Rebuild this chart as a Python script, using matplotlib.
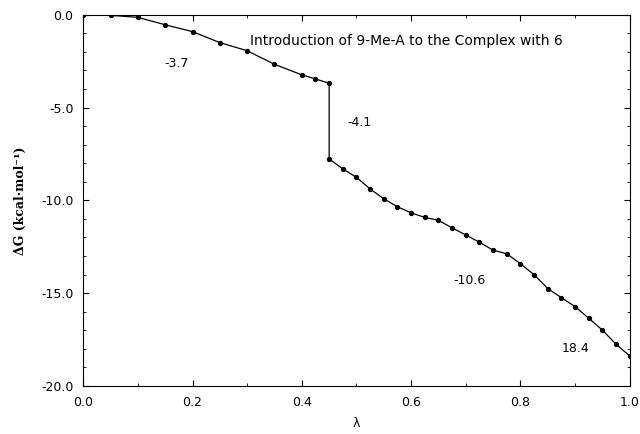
import numpy as np
import matplotlib
matplotlib.use('Agg')
import matplotlib.pyplot as plt
from matplotlib.ticker import MultipleLocator

# lambda values and free energy
lam = [0.0, 0.05, 0.1, 0.15, 0.2, 0.25, 0.3, 0.35, 0.4, 0.425, 0.45,
       0.45, 0.475, 0.5, 0.525, 0.55, 0.575, 0.6, 0.625, 0.65, 0.675,
       0.7, 0.725, 0.75, 0.775, 0.8, 0.825, 0.85, 0.875, 0.9, 0.925,
       0.95, 0.975, 1.0]
dG = [0.0, -0.03, -0.14, -0.54, -0.91, -1.5, -1.94, -2.67, -3.24, -3.46, -3.69,
      -7.77, -8.31, -8.76, -9.39, -9.92, -10.35, -10.68, -10.92, -11.08, -11.49,
      -11.87, -12.26, -12.69, -12.88, -13.42, -14.01, -14.76, -15.25, -15.73, -16.36,
      -17.0, -17.76, -18.39]

# segment labels (text, lambda, dG)
notes = ["-3.7", "-4.1", "-10.6", "18.4"]
note_x = [0.17, 0.506, 0.707, 0.9]
note_y = [-2.63, -5.8, -14.3, -18.0]

fig = plt.figure(figsize=(6.4, 4.34), dpi=100)
ax = fig.add_axes([0.13, 0.111, 0.854, 0.855])

ax.plot(lam, dG, color='black', lw=0.9, marker='o', ms=2.8)

for t, x, y in zip(notes, note_x, note_y):
    ax.text(x, y, t, fontsize=9, ha='center', va='center')

ax.text(0.305, -1.4, "Introduction of 9-Me-A to the Complex with 6",
        fontsize=10, ha='left', va='center')

ax.set_xlim(0, 1.0)
ax.set_ylim(-20, 0)
ax.set_xticks(np.arange(0, 1.01, 0.2))
ax.set_xticklabels(["0.0", "0.2", "0.4", "0.6", "0.8", "1.0"])
ax.set_yticks([0, -5, -10, -15, -20])
ax.set_yticklabels(["0.0", "-5.0", "-10.0", "-15.0", "-20.0"])
ax.yaxis.set_minor_locator(MultipleLocator(1))
ax.xaxis.set_minor_locator(MultipleLocator(0.1))
ax.tick_params(direction='in', top=True, right=True, which='both', labelsize=9)
ax.tick_params(which='major', length=4, pad=7)
ax.tick_params(which='minor', length=2)
for s in ax.spines.values():
    s.set_linewidth(0.8)

ax.set_xlabel("λ", fontsize=9, labelpad=6)
ax.set_ylabel("ΔG (kcal·mol⁻¹)", fontsize=9, fontweight='bold', family='DejaVu Serif', labelpad=10)

fig.savefig('out.png', dpi=100)
